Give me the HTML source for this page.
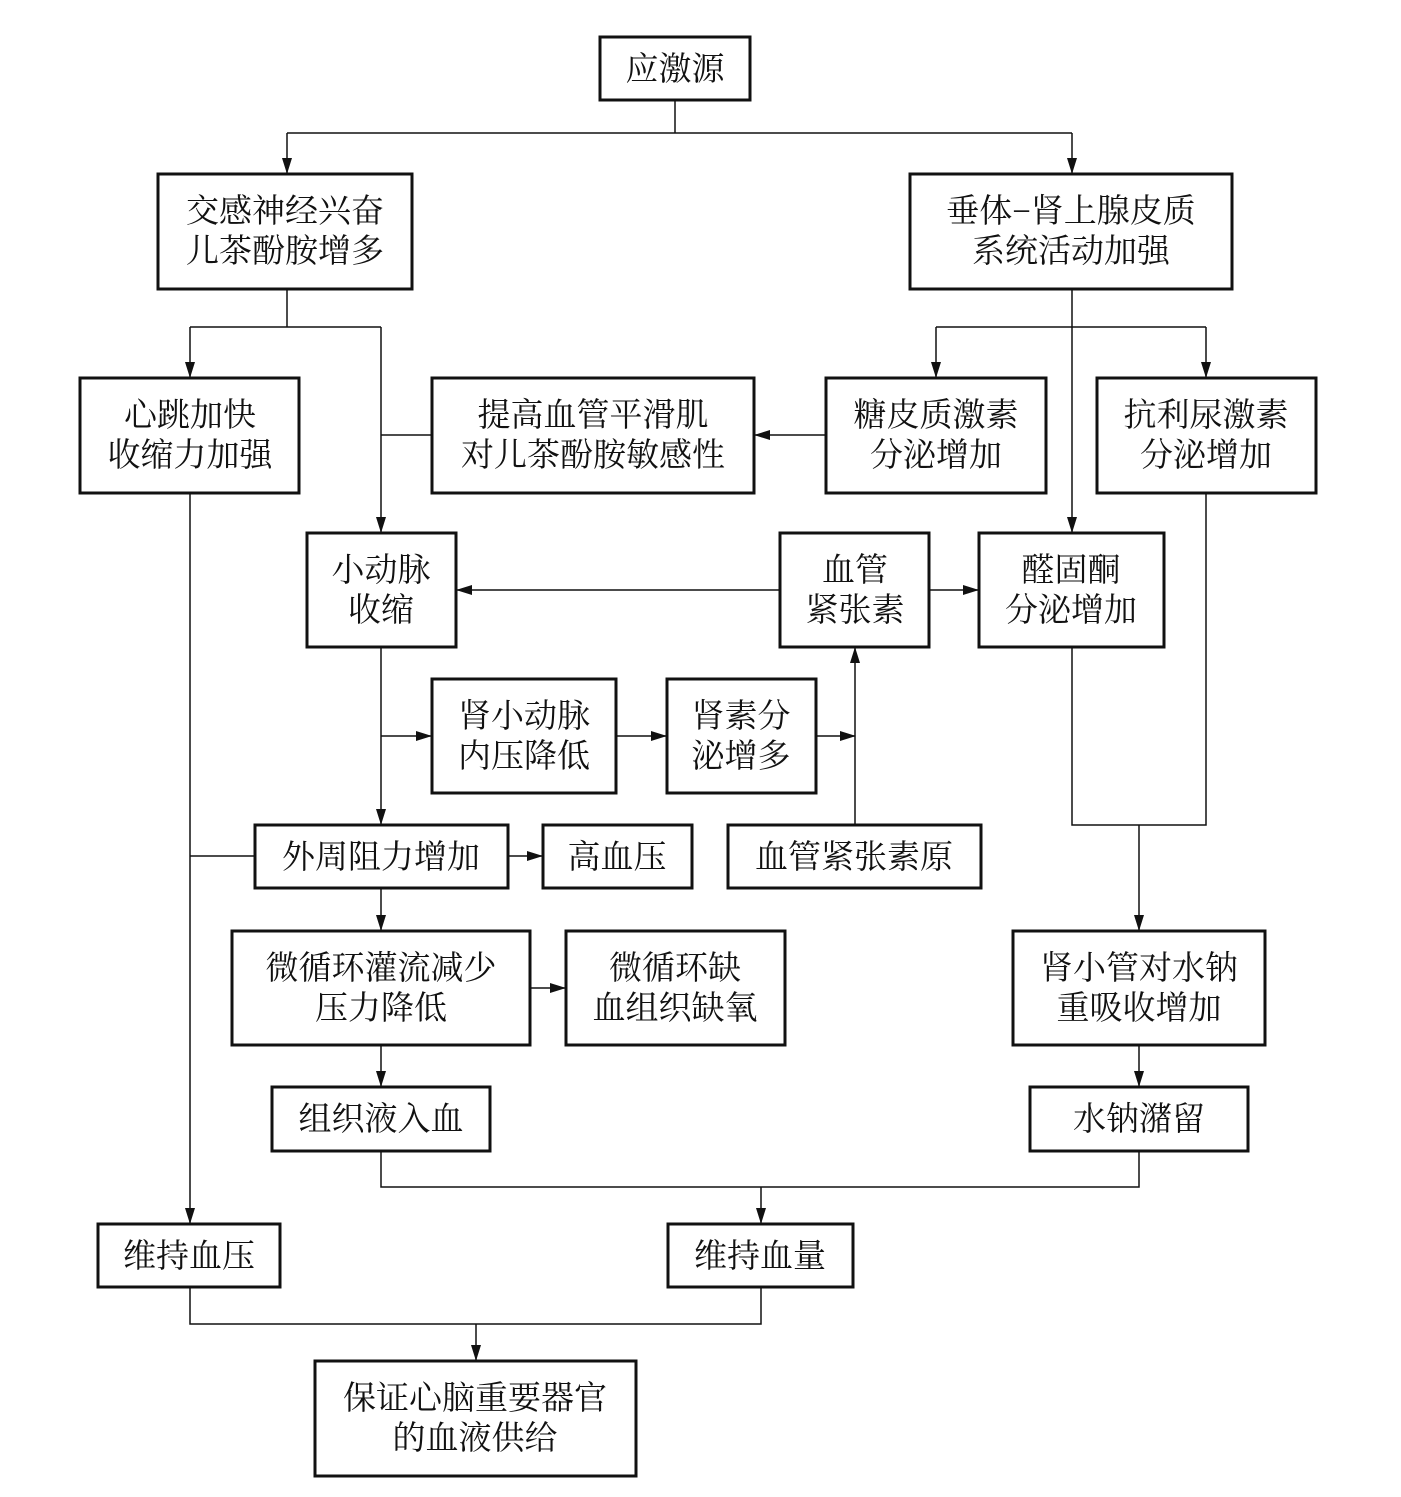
<!DOCTYPE html>
<html><head><meta charset="utf-8"><style>
html,body{margin:0;padding:0;background:#fff;}
svg{display:block;}
text{font-family:"Liberation Serif","Noto Serif CJK SC","Noto Sans CJK SC",serif;font-size:33px;fill:#111;text-anchor:middle;}
</style></head><body>
<svg width="1401" height="1497" viewBox="0 0 1401 1497" xmlns="http://www.w3.org/2000/svg">
<defs>
<marker id="a" markerWidth="16" markerHeight="10" refX="15" refY="5" orient="auto" markerUnits="userSpaceOnUse">
<path d="M0,0 L16,5 L0,10 Z" fill="#111"/></marker>
</defs>
<g fill="#fff" stroke="#111" stroke-width="3">
<rect x="600" y="37" width="150" height="63"/>
<rect x="158" y="174" width="254" height="115"/>
<rect x="910" y="174" width="322" height="115"/>
<rect x="80" y="378" width="219" height="115"/>
<rect x="432" y="378" width="322" height="115"/>
<rect x="826" y="378" width="220" height="115"/>
<rect x="1097" y="378" width="219" height="115"/>
<rect x="307" y="533" width="149" height="114"/>
<rect x="780" y="533" width="149" height="114"/>
<rect x="979" y="533" width="185" height="114"/>
<rect x="432" y="679" width="184" height="114"/>
<rect x="667" y="679" width="149" height="114"/>
<rect x="255" y="825" width="253" height="63"/>
<rect x="543" y="825" width="149" height="63"/>
<rect x="728" y="825" width="253" height="63"/>
<rect x="232" y="931" width="298" height="114"/>
<rect x="566" y="931" width="219" height="114"/>
<rect x="1013" y="931" width="252" height="114"/>
<rect x="272" y="1087" width="218" height="64"/>
<rect x="1030" y="1087" width="218" height="64"/>
<rect x="98" y="1224" width="182" height="63"/>
<rect x="668" y="1224" width="185" height="63"/>
<rect x="315" y="1361" width="321" height="115"/>
</g>
<g fill="none" stroke="#111" stroke-width="1.5">
<path d="M675,100 V133 M287,133 H1072"/>
<path d="M287,133 V173" marker-end="url(#a)"/>
<path d="M1072,133 V173" marker-end="url(#a)"/>
<path d="M287,289 V327 M190,327 H381"/>
<path d="M190,327 V377" marker-end="url(#a)"/>
<path d="M381,327 V532" marker-end="url(#a)"/>
<path d="M381,435 H432"/>
<path d="M1072,289 V532" marker-end="url(#a)"/>
<path d="M936,327 H1206"/>
<path d="M936,327 V377" marker-end="url(#a)"/>
<path d="M1206,327 V377" marker-end="url(#a)"/>
<path d="M826,435 H755" marker-end="url(#a)"/>
<path d="M190,493 V1223" marker-end="url(#a)"/>
<path d="M190,856 H255"/>
<path d="M780,590 H457" marker-end="url(#a)"/>
<path d="M929,590 H978" marker-end="url(#a)"/>
<path d="M381,647 V824" marker-end="url(#a)"/>
<path d="M381,736 H431" marker-end="url(#a)"/>
<path d="M616,736 H666" marker-end="url(#a)"/>
<path d="M816,736 H855" marker-end="url(#a)"/>
<path d="M855,825 V648" marker-end="url(#a)"/>
<path d="M508,856 H542" marker-end="url(#a)"/>
<path d="M381,888 V930" marker-end="url(#a)"/>
<path d="M530,988 H565" marker-end="url(#a)"/>
<path d="M381,1045 V1086" marker-end="url(#a)"/>
<path d="M1072,647 V825 H1206 V493"/>
<path d="M1139,825 V930" marker-end="url(#a)"/>
<path d="M1139,1045 V1086" marker-end="url(#a)"/>
<path d="M381,1151 V1187 H1139 V1151"/>
<path d="M761,1187 V1223" marker-end="url(#a)"/>
<path d="M190,1287 V1324 H761 V1287"/>
<path d="M476,1324 V1360" marker-end="url(#a)"/>
</g>
<g>
<text x="675" y="80">应激源</text>
<text x="285" y="222">交感神经兴奋</text>
<text x="285" y="262">儿茶酚胺增多</text>
<text x="1071" y="222">垂体−肾上腺皮质</text>
<text x="1071" y="262">系统活动加强</text>
<text x="190" y="426">心跳加快</text>
<text x="190" y="466">收缩力加强</text>
<text x="593" y="426">提高血管平滑肌</text>
<text x="593" y="466">对儿茶酚胺敏感性</text>
<text x="936" y="426">糖皮质激素</text>
<text x="936" y="466">分泌增加</text>
<text x="1206" y="426">抗利尿激素</text>
<text x="1206" y="466">分泌增加</text>
<text x="381" y="581">小动脉</text>
<text x="381" y="621">收缩</text>
<text x="855" y="581">血管</text>
<text x="855" y="621">紧张素</text>
<text x="1071" y="581">醛固酮</text>
<text x="1071" y="621">分泌增加</text>
<text x="524" y="727">肾小动脉</text>
<text x="524" y="767">内压降低</text>
<text x="741" y="727">肾素分</text>
<text x="741" y="767">泌增多</text>
<text x="381" y="868">外周阻力增加</text>
<text x="617" y="868">高血压</text>
<text x="854" y="868">血管紧张素原</text>
<text x="381" y="979">微循环灌流减少</text>
<text x="381" y="1019">压力降低</text>
<text x="675" y="979">微循环缺</text>
<text x="675" y="1019">血组织缺氧</text>
<text x="1139" y="979">肾小管对水钠</text>
<text x="1139" y="1019">重吸收增加</text>
<text x="381" y="1130">组织液入血</text>
<text x="1139" y="1130">水钠潴留</text>
<text x="189" y="1267">维持血压</text>
<text x="760" y="1267">维持血量</text>
<text x="475" y="1409">保证心脑重要器官</text>
<text x="475" y="1449">的血液供给</text>
</g>
</svg>
</body></html>
